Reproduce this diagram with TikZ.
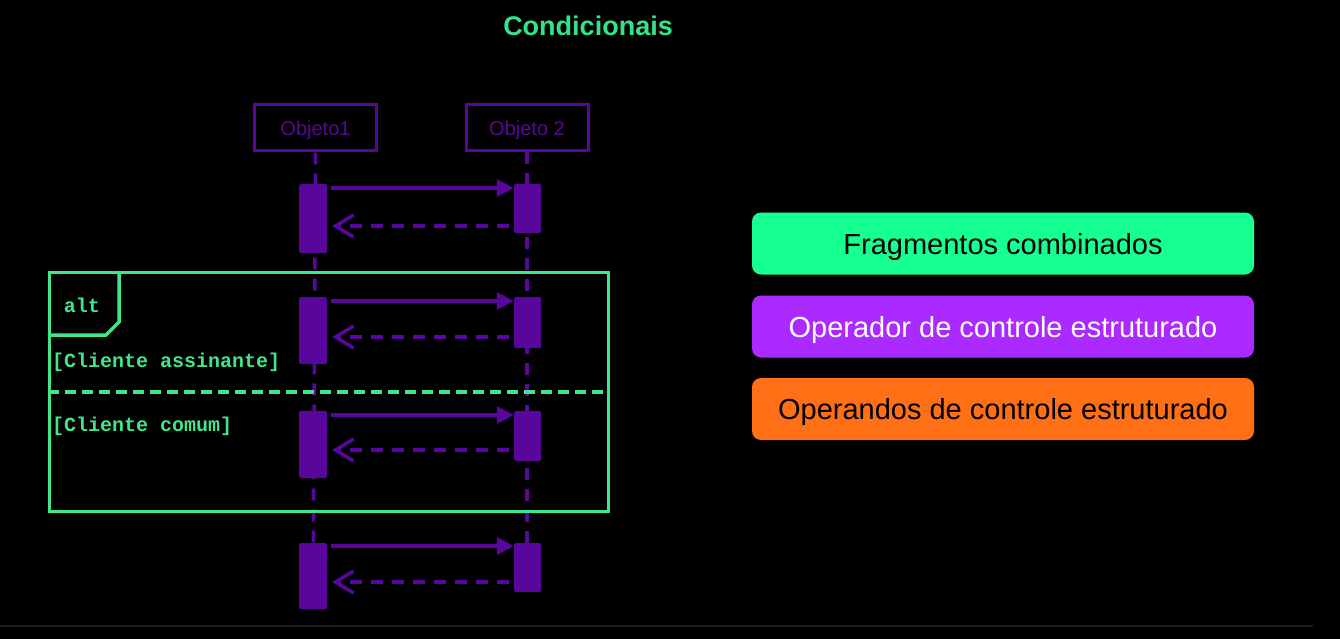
\documentclass[tikz,border=0pt]{standalone}
\usepackage{fontspec}
\setmainfont{Liberation Sans}
\setmonofont{Liberation Mono}
\usetikzlibrary{arrows.meta}
\definecolor{uml}{RGB}{88,6,156}
\definecolor{frm}{RGB}{64,230,138}
\definecolor{ttl}{RGB}{51,227,138}
\definecolor{bgreen}{RGB}{22,255,145}
\definecolor{bpurple}{RGB}{170,42,255}
\definecolor{borange}{RGB}{255,112,22}
\definecolor{faintline}{RGB}{30,30,30}
\pgfdeclarelayer{bglayer}
\pgfdeclarelayer{lifelayer}
\pgfsetlayers{bglayer,lifelayer,main}
\begin{document}
\begin{tikzpicture}[x=1pt,y=-1pt,
  actor/.style={draw=uml,line width=3pt,minimum width=122pt,minimum height=46pt,inner sep=0pt,text=uml,text height=14.3pt,text depth=0pt,font=\fontsize{20}{22}\selectfont},
  life/.style={draw=uml,line width=3.5pt,dash pattern=on 12pt off 9pt},
  bar/.style={fill=uml,rounded corners=1.5pt,inner sep=0pt,minimum width=28pt},
  call/.style={draw=uml,line width=3.5pt,-{Triangle[length=17pt,width=17pt]}},
  ret/.style={draw=uml,line width=3.5pt,dash pattern=on 12pt off 9pt,-{Straight Barb[length=18pt,width=22pt]}},
  frame/.style={draw=frm,line width=3.5pt,inner sep=0pt},
  sep/.style={draw=frm,line width=3.5pt,dash pattern=on 11pt off 6pt},
  guard/.style={text=frm,font=\ttfamily\bfseries\fontsize{20}{22}\selectfont,inner sep=0pt,anchor=west},
  rbox/.style={rounded corners=9pt,minimum width=502pt,minimum height=62pt,inner sep=0pt,text height=21pt,text depth=0pt,font=\fontsize{29}{32}\selectfont}
]
\useasboundingbox (0,0) rectangle (1340,639);
\begin{pgfonlayer}{bglayer}
\fill[black] (0,0) rectangle (1340,639);
\draw[faintline,line width=1.5pt] (0,626) -- (1313,626);
\end{pgfonlayer}

% title
\node[text=ttl,font=\bfseries\fontsize{27}{30}\selectfont] (title) at (588,26) {Condicionais};

% actors
\node[actor] (o1) at (315.5,128) {Objeto1};
\node[actor] (o2) at (527,128) {Objeto 2};

% activation bars
\node[bar,minimum height=69pt] (a1) at (313,218.5) {};
\node[bar,minimum height=49pt,minimum width=27pt] (b1) at (527.5,208.5) {};
\node[bar,minimum height=67pt] (a2) at (313,330.5) {};
\node[bar,minimum height=51pt,minimum width=27pt] (b2) at (527.5,322.5) {};
\node[bar,minimum height=67pt] (a3) at (313,444.5) {};
\node[bar,minimum height=50pt,minimum width=27pt] (b3) at (527.5,436) {};
\node[bar,minimum height=66pt] (a4) at (313,576) {};
\node[bar,minimum height=49pt,minimum width=27pt] (b4) at (527.5,567.5) {};

% lifelines
\begin{pgfonlayer}{lifelayer}
\draw[life] (o1.south) -- (a4.south);
\draw[life] (o2.south) -- (o2.south |- b4.south);
\end{pgfonlayer}

% messages
\draw[call] ([xshift=4pt]a1.east |- 0,188) -- (b1.west |- 0,188);
\draw[ret] ([xshift=-5pt]b1.west |- 0,226) -- ([xshift=5pt]a1.east |- 0,226);
\draw[call] ([xshift=4pt]a2.east |- 0,301) -- (b2.west |- 0,301);
\draw[ret] ([xshift=-5pt]b2.west |- 0,337) -- ([xshift=5pt]a2.east |- 0,337);
\draw[call] ([xshift=4pt]a3.east |- 0,415) -- (b3.west |- 0,415);
\draw[ret] ([xshift=-5pt]b3.west |- 0,450) -- ([xshift=5pt]a3.east |- 0,450);
\draw[call] ([xshift=4pt]a4.east |- 0,546) -- (b4.west |- 0,546);
\draw[ret] ([xshift=-5pt]b4.west |- 0,582) -- ([xshift=5pt]a4.east |- 0,582);

% alt frame
\node[frame,minimum width=559pt,minimum height=239pt] (alt) at (329,392) {};
\coordinate (tabA) at (119,322);
\coordinate (tabB) at (106,335);
\draw[frm,line width=3.5pt,line join=miter] (alt.north west -| tabA) -- (tabA) -- (tabB) -- (alt.west |- tabB);
\node[text=frm,font=\ttfamily\bfseries\fontsize{20}{22}\selectfont] (altlabel) at (82,305) {alt};
\draw[sep] (alt.west |- 0,392) -- (alt.east |- 0,392);
\node[guard] (g1) at (52,362) {[Cliente assinante]};
\node[guard] (g2) at (52,426) {[Cliente comum]};

% right legend boxes
\node[rbox,fill=bgreen,text=black] (f1) at (1003,243.5) {Fragmentos combinados};
\node[rbox,fill=bpurple,text=white] (f2) at (1003,326.5) {Operador de controle estruturado};
\node[rbox,fill=borange,text=black] (f3) at (1003,409) {Operandos de controle estruturado};
\end{tikzpicture}
\end{document}
